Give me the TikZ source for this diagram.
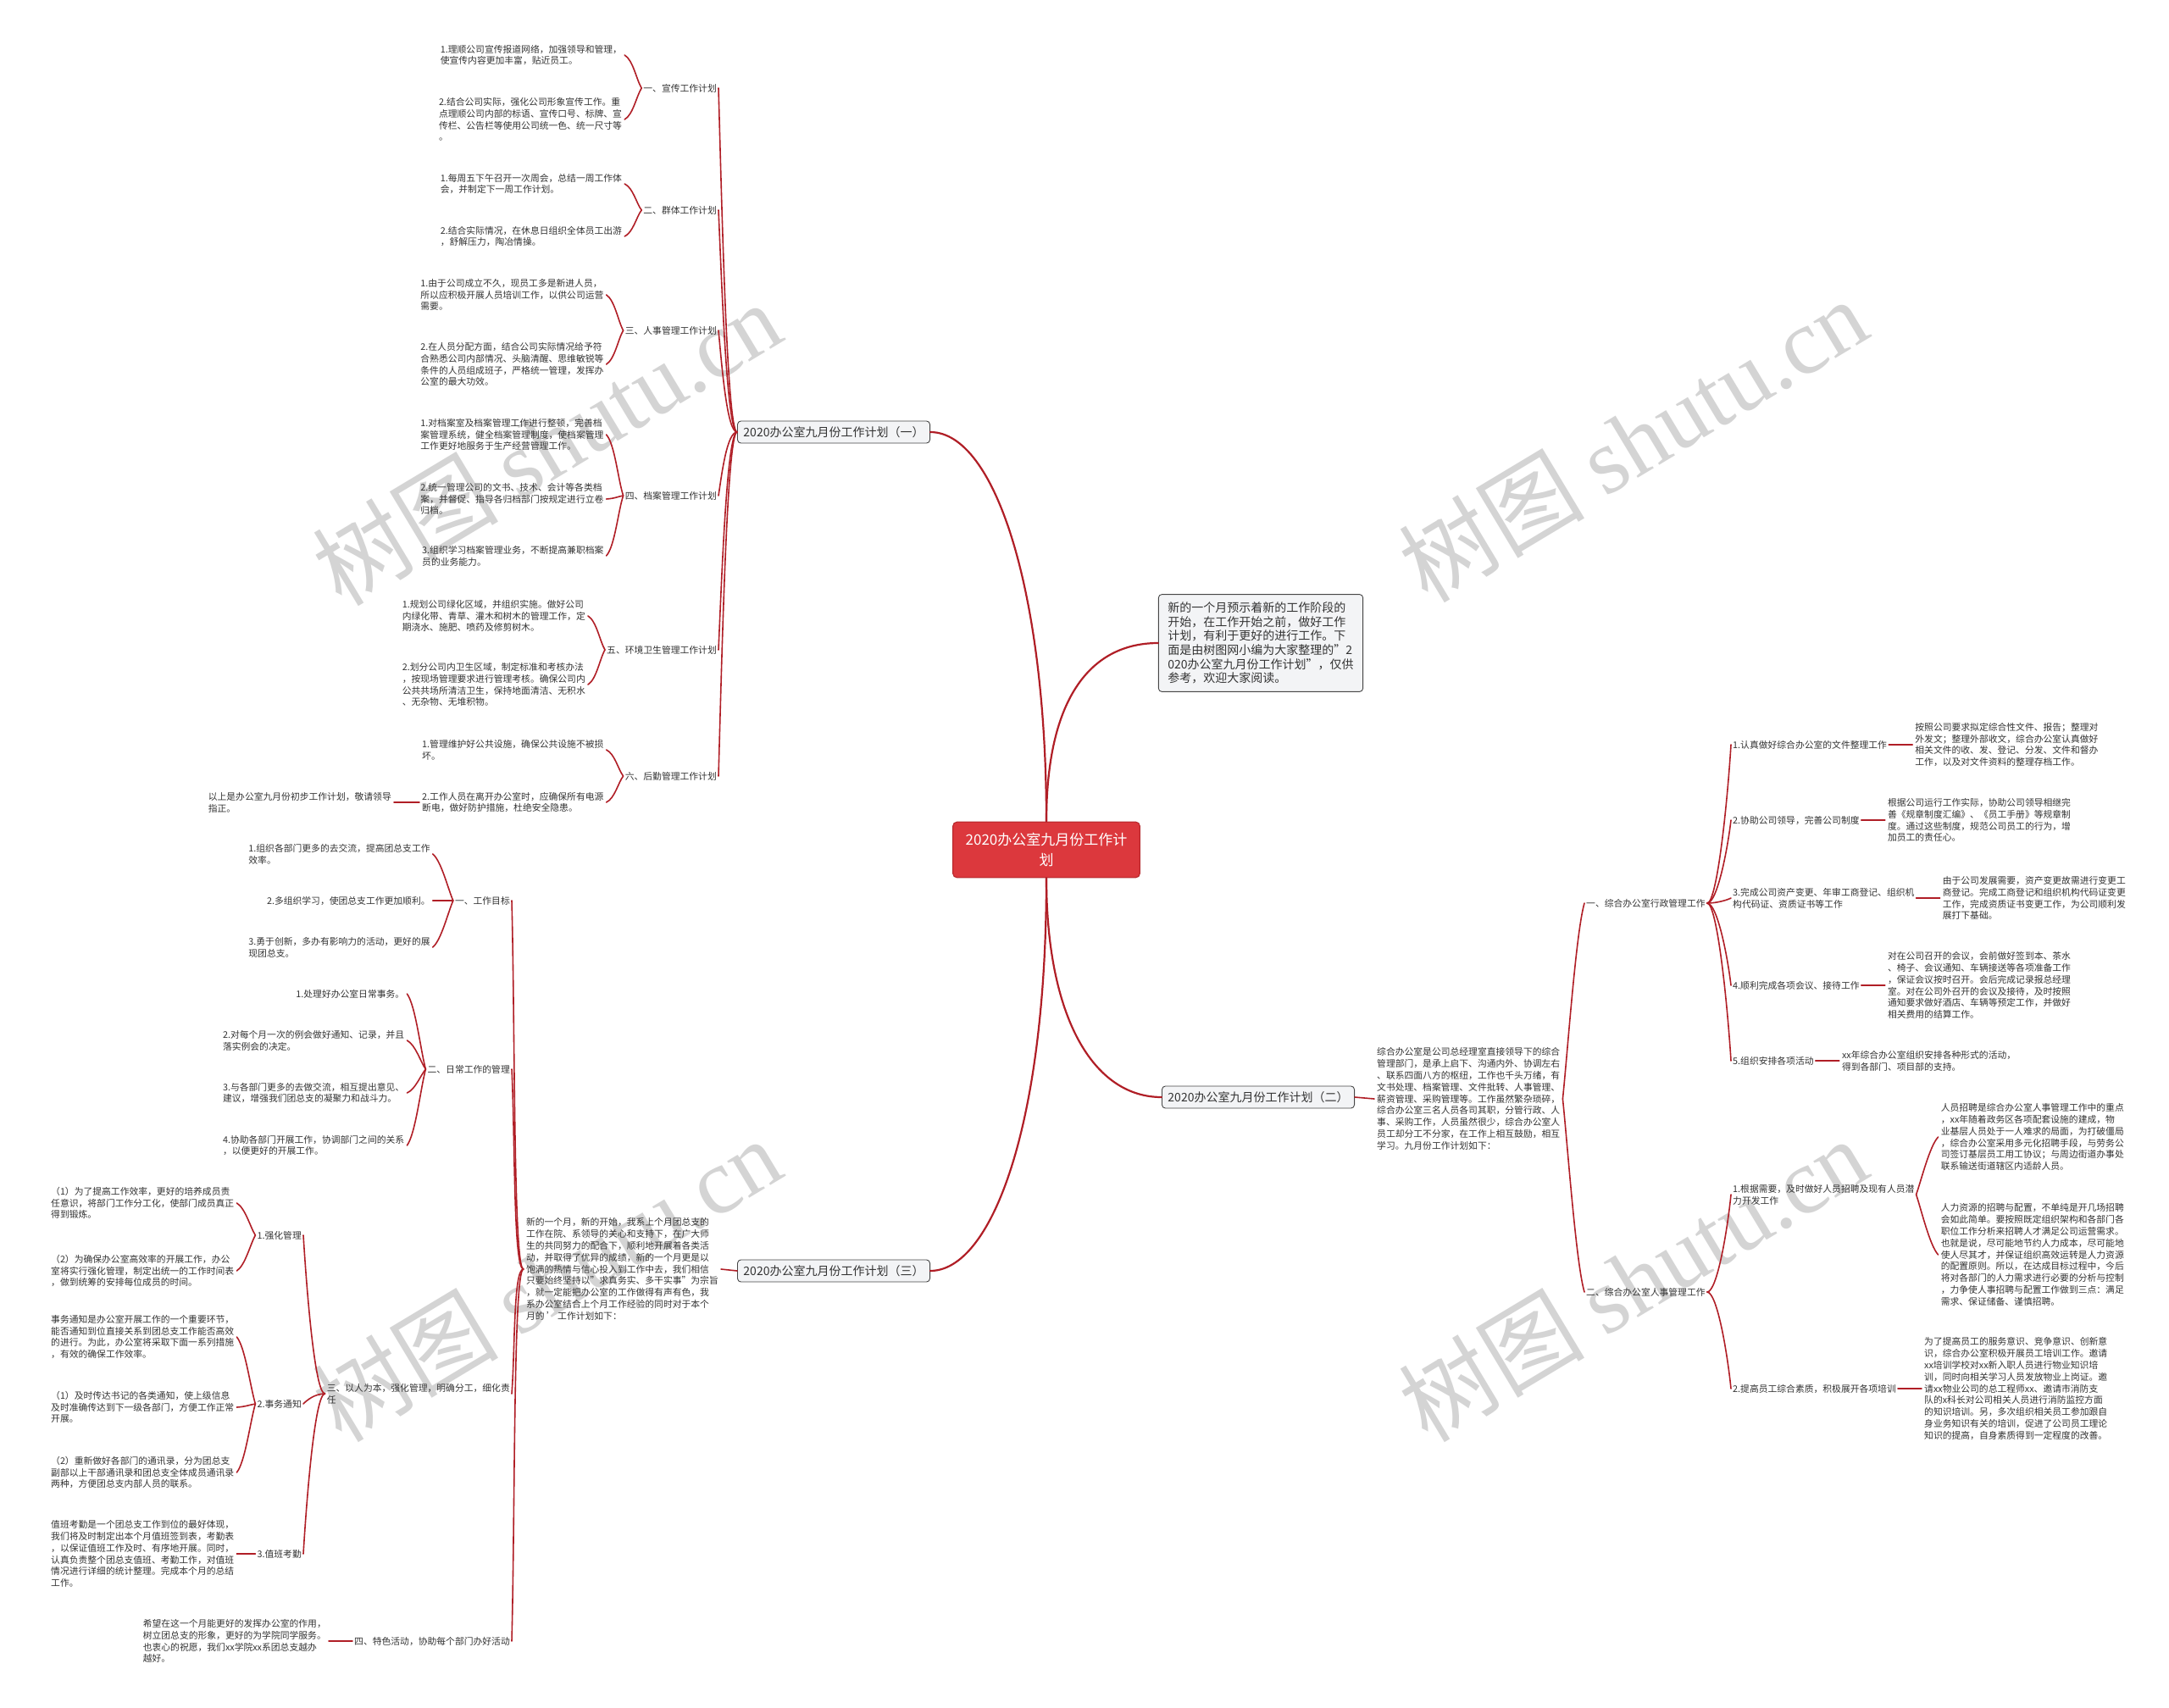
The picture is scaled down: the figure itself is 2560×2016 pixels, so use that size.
\documentclass[tikz,border=0pt]{standalone}
\usepackage{fontspec}
\setmainfont{Noto Sans CJK SC}
\newfontfamily\wmserif{Liberation Serif}
\usetikzlibrary{calc}
\definecolor{lnred}{RGB}{176,30,38}
\definecolor{txtc}{RGB}{51,51,51}
\definecolor{ctrred}{RGB}{220,56,61}
\definecolor{ctrbd}{RGB}{180,35,40}
\definecolor{mfill}{RGB}{243,244,246}
\definecolor{mbd}{RGB}{70,70,70}
\definecolor{wmc}{RGB}{212,212,212}
\begin{document}
\begin{tikzpicture}[x=1pt,y=-1pt,
 lnk/.style={draw=lnred, line width=1.6pt, line cap=round},
 bigl/.style={draw=lnred, line width=2.2pt, line cap=round},
 leaf/.style={align=left, inner sep=3pt, text=txtc, font=\fontsize{10.8}{13.8}\selectfont},
 lab/.style={align=left, inner sep=2pt, text=txtc, font=\fontsize{10.8}{13.8}\selectfont},
 mainnode/.style={draw=mbd, fill=mfill, rounded corners=4pt, line width=0.9pt, inner xsep=7pt, inner ysep=4pt, minimum height=26pt, text=txtc, font=\fontsize{14}{16.7}\selectfont},
 ctrnode/.style={draw=ctrbd, fill=ctrred, rounded corners=5pt, line width=1pt, align=center, inner xsep=15pt, inner ysep=13pt, text=white, font=\fontsize{17}{24}\selectfont},
 wmark/.style={rotate=31, text=wmc, font=\fontsize{110}{110}\selectfont, inner sep=0pt},
 treeL/.style={to path={let \p1=(\tikztostart), \p2=(\tikztotarget) in (\p1) .. controls ({\x1-12pt},\y1) and ({\x2+4pt},{\y2+0.35*(\y1-\y2)}) .. (\p2)}},
 treeR/.style={to path={let \p1=(\tikztostart), \p2=(\tikztotarget) in (\p1) .. controls ({\x1+12pt},\y1) and ({\x2-4pt},{\y2+0.35*(\y1-\y2)}) .. (\p2)}},
 braceL/.style={to path={let \p1=(\tikztostart), \p2=(\tikztotarget) in (\p1) .. controls ({\x1-6pt},{\y1+0.25*(\y2-\y1)}) and ({\x2+10pt},{\y2-0.15*(\y2-\y1)}) .. (\p2)}},
 braceR/.style={to path={let \p1=(\tikztostart), \p2=(\tikztotarget) in (\p1) .. controls ({\x1+6pt},{\y1+0.25*(\y2-\y1)}) and ({\x2-10pt},{\y2-0.15*(\y2-\y1)}) .. (\p2)}}
]
\fill[white] (0,0) rectangle (2560,2016);
\useasboundingbox (0,0) rectangle (2560,2016);

% watermarks
\node[wmark] (w1) at (645,523) {树图 {\wmserif shutu.cn}};
\node[wmark] (w2) at (1927,519) {树图 {\wmserif shutu.cn}};
\node[wmark] (w3) at (645,1510) {树图 {\wmserif shutu.cn}};
\node[wmark] (w4) at (1927,1510) {树图 {\wmserif shutu.cn}};

% centre and main nodes
\node[ctrnode] (ctr) at (1235,1003) {2020办公室九月份工作计\\划};
\node[mainnode] (s1) at (984,510) {2020办公室九月份工作计划（一）};
\node[mainnode] (s2) at (1485,1295) {2020办公室九月份工作计划（二）};
\node[mainnode] (s3) at (984,1500) {2020办公室九月份工作计划（三）};
\node[mainnode, align=left, font=\fontsize{14}{16.7}\selectfont, inner xsep=11pt, inner ysep=9pt] (intro) at (1488,759) {新的一个月预示着新的工作阶段的\\开始，在工作开始之前，做好工作\\计划，有利于更好的进行工作。下\\面是由树图网小编为大家整理的"2\\020办公室九月份工作计划"，仅供\\参考，欢迎大家阅读。};

\draw[bigl] (ctr.north) .. controls (1235,700) and (1175,510) .. (s1.east);
\draw[bigl] (ctr.north) .. controls (1235,820) and (1290,759) .. (intro.west);
\draw[bigl] (ctr.south) .. controls (1235,1200) and (1290,1295) .. (s2.west);
\draw[bigl] (ctr.south) .. controls (1235,1330) and (1170,1500) .. (s3.east);

% ===== section one =====
\node[lab, anchor=east] (a1) at (848,104) {一、宣传工作计划};
\node[lab, anchor=east] (a2) at (848,248) {二、群体工作计划};
\node[lab, anchor=east] (a3) at (848,390) {三、人事管理工作计划};
\node[lab, anchor=east] (a4) at (848,585) {四、档案管理工作计划};
\node[lab, anchor=east] (a5) at (848,767) {五、环境卫生管理工作计划};
\node[lab, anchor=east] (a6) at (848,916) {六、后勤管理工作计划};

\node[leaf, anchor=east] (l1a) at ($(a1.west)+(-20,-39)$) {1.理顺公司宣传报道网络，加强领导和管理，\\使宣传内容更加丰富，贴近员工。};
\node[leaf, anchor=east] (l1b) at ($(a1.west)+(-20,37)$) {2.结合公司实际，强化公司形象宣传工作。重\\点理顺公司内部的标语、宣传口号、标牌、宣\\传栏、公告栏等使用公司统一色、统一尺寸等\\。};
\node[leaf, anchor=east] (l2a) at ($(a2.west)+(-20,-31)$) {1.每周五下午召开一次周会，总结一周工作体\\会，并制定下一周工作计划。};
\node[leaf, anchor=east] (l2b) at ($(a2.west)+(-20,31)$) {2.结合实际情况，在休息日组织全体员工出游\\，舒解压力，陶冶情操。};
\node[leaf, anchor=east] (l3a) at ($(a3.west)+(-20,-42)$) {1.由于公司成立不久，现员工多是新进人员，\\所以应积极开展人员培训工作，以供公司运营\\需要。};
\node[leaf, anchor=east] (l3b) at ($(a3.west)+(-20,40)$) {2.在人员分配方面，结合公司实际情况给予符\\合熟悉公司内部情况、头脑清醒、思维敏锐等\\条件的人员组成班子，严格统一管理，发挥办\\公室的最大功效。};
\node[leaf, anchor=east] (l4a) at ($(a4.west)+(-20,-72)$) {1.对档案室及档案管理工作进行整顿，完善档\\案管理系统，健全档案管理制度，使档案管理\\工作更好地服务于生产经营管理工作。};
\node[leaf, anchor=east] (l4b) at ($(a4.west)+(-20,4)$) {2.统一管理公司的文书、技术、会计等各类档\\案，并督促、指导各归档部门按规定进行立卷\\归档。};
\node[leaf, anchor=east] (l4c) at ($(a4.west)+(-20,71)$) {3.组织学习档案管理业务，不断提高兼职档案\\员的业务能力。};
\node[leaf, anchor=east] (l5a) at ($(a5.west)+(-20,-40)$) {1.规划公司绿化区域，并组织实施。做好公司\\内绿化带、青草、灌木和树木的管理工作，定\\期浇水、施肥、喷药及修剪树木。};
\node[leaf, anchor=east] (l5b) at ($(a5.west)+(-20,41)$) {2.划分公司内卫生区域，制定标准和考核办法\\，按现场管理要求进行管理考核。确保公司内\\公共共场所清洁卫生，保持地面清洁、无积水\\、无杂物、无堆积物。};
\node[leaf, anchor=east] (l6a) at ($(a6.west)+(-20,-31)$) {1.管理维护好公共设施，确保公共设施不被损\\坏。};
\node[leaf, anchor=east] (l6b) at ($(a6.west)+(-20,31)$) {2.工作人员在离开办公室时，应确保所有电源\\断电，做好防护措施，杜绝安全隐患。};
\node[leaf, anchor=east] (ys) at ($(l6b.west)+(-30,0)$) {以上是办公室九月份初步工作计划，敬请领导\\指正。};

\foreach \t in {a1,a2,a3,a4,a5,a6} \draw[lnk] (s1.west) to[treeL] (\t.east);
\draw[lnk] (a1.west) to[braceL] (l1a.east);
\draw[lnk] (a1.west) to[braceL] (l1b.east);
\draw[lnk] (a2.west) to[braceL] (l2a.east);
\draw[lnk] (a2.west) to[braceL] (l2b.east);
\draw[lnk] (a3.west) to[braceL] (l3a.east);
\draw[lnk] (a3.west) to[braceL] (l3b.east);
\draw[lnk] (a4.west) to[braceL] (l4a.east);
\draw[lnk] (a4.west) to[braceL] (l4b.east);
\draw[lnk] (a4.west) to[braceL] (l4c.east);
\draw[lnk] (a5.west) to[braceL] (l5a.east);
\draw[lnk] (a5.west) to[braceL] (l5b.east);
\draw[lnk] (a6.west) to[braceL] (l6a.east);
\draw[lnk] (a6.west) to[braceL] (l6b.east);
\draw[lnk] (l6b.west) -- (ys.east);

% ===== section three =====
\node[leaf, anchor=east] (d3) at (851,1498) {新的一个月，新的开始，我系上个月团总支的\\工作在院、系领导的关心和支持下，在广大师\\生的共同努力的配合下，顺利地开展着各类活\\动，并取得了优异的成绩，新的一个月更是以\\饱满的热情与信心投入到工作中去，我们相信\\只要始终坚持以"求真务实、多干实事"为宗旨\\，就一定能把办公室的工作做得有声有色，我\\系办公室结合上个月工作经验的同时对于本个\\月的 ' 工作计划如下：};
\node[lab, anchor=east] (b1) at (604,1063) {一、工作目标};
\node[lab, anchor=east] (b2) at (604,1262) {二、日常工作的管理};
\node[lab, anchor=east] (b3) at (604,1645) {三、以人为本，强化管理，明确分工，细化责\\任};
\node[lab, anchor=east] (b4) at (604,1937) {四、特色活动，协助每个部门办好活动};

\node[leaf, anchor=east] (m1a) at ($(b1.west)+(-24,-55)$) {1.组织各部门更多的去交流，提高团总支工作\\效率。};
\node[leaf, anchor=east] (m1b) at ($(b1.west)+(-24,0)$) {2.多组织学习，使团总支工作更加顺利。};
\node[leaf, anchor=east] (m1c) at ($(b1.west)+(-24,55)$) {3.勇于创新，多办有影响力的活动，更好的展\\现团总支。};
\node[leaf, anchor=east] (m2a) at ($(b2.west)+(-22,-89)$) {1.处理好办公室日常事务。};
\node[leaf, anchor=east] (m2b) at ($(b2.west)+(-22,-34)$) {2.对每个月一次的例会做好通知、记录，并且\\落实例会的决定。};
\node[leaf, anchor=east] (m2c) at ($(b2.west)+(-22,28)$) {3.与各部门更多的去做交流，相互提出意见、\\建议，增强我们团总支的凝聚力和战斗力。};
\node[leaf, anchor=east] (m2d) at ($(b2.west)+(-22,90)$) {4.协助各部门开展工作，协调部门之间的关系\\，以便更好的开展工作。};

\node[lab, anchor=east] (c1) at (358,1458) {1.强化管理};
\node[lab, anchor=east] (c2) at (358,1657) {2.事务通知};
\node[lab, anchor=east] (c3) at (358,1834) {3.值班考勤};

\node[leaf, anchor=east] (n1a) at ($(c1.west)+(-22,-38)$) {（1）为了提高工作效率，更好的培养成员责\\任意识，将部门工作分工化，使部门成员真正\\得到锻炼。};
\node[leaf, anchor=east] (n1b) at ($(c1.west)+(-22,42)$) {（2）为确保办公室高效率的开展工作，办公\\室将实行强化管理，制定出统一的工作时间表\\，做到统筹的安排每位成员的时间。};
\node[leaf, anchor=east] (n2a) at ($(c2.west)+(-22,-79)$) {事务通知是办公室开展工作的一个重要环节，\\能否通知到位直接关系到团总支工作能否高效\\的进行。为此，办公室将采取下面一系列措施\\，有效的确保工作效率。};
\node[leaf, anchor=east] (n2b) at ($(c2.west)+(-22,4)$) {（1）及时传达书记的各类通知，使上级信息\\及时准确传达到下一级各部门，方便工作正常\\开展。};
\node[leaf, anchor=east] (n2c) at ($(c2.west)+(-22,81)$) {（2）重新做好各部门的通讯录，分为团总支\\副部以上干部通讯录和团总支全体成员通讯录\\两种，方便团总支内部人员的联系。};
\node[leaf, anchor=east] (n3) at ($(c3.west)+(-22,0)$) {值班考勤是一个团总支工作到位的最好体现，\\我们将及时制定出本个月值班签到表，考勤表\\，以保证值班工作及时、有序地开展。同时，\\认真负责整个团总支值班、考勤工作，对值班\\情况进行详细的统计整理。完成本个月的总结\\工作。};
\node[leaf, anchor=east] (n4) at ($(b4.west)+(-28,0)$) {希望在这一个月能更好的发挥办公室的作用，\\树立团总支的形象，更好的为学院同学服务。\\也衷心的祝愿，我们xx学院xx系团总支越办\\越好。};

\draw[lnk] (s3.west) -- (d3.east);
\foreach \t in {b1,b2,b3,b4} \draw[lnk] (d3.west) to[treeL] (\t.east);
\foreach \t in {m1a,m1b,m1c} \draw[lnk] (b1.west) to[braceL] (\t.east);
\foreach \t in {m2a,m2b,m2c,m2d} \draw[lnk] (b2.west) to[braceL] (\t.east);
\foreach \t in {c1,c2,c3} \draw[lnk] (b3.west) to[treeL] (\t.east);
\foreach \t in {n1a,n1b} \draw[lnk] (c1.west) to[braceL] (\t.east);
\foreach \t in {n2a,n2b,n2c} \draw[lnk] (c2.west) to[braceL] (\t.east);
\draw[lnk] (c3.west) -- (n3.east);
\draw[lnk] (b4.west) -- (n4.east);

% ===== section two =====
\node[leaf, anchor=west] (d2) at (1622,1297) {综合办公室是公司总经理室直接领导下的综合\\管理部门，是承上启下、沟通内外、协调左右\\、联系四面八方的枢纽，工作也千头万绪，有\\文书处理、档案管理、文件批转、人事管理、\\薪资管理、采购管理等。工作虽然繁杂琐碎，\\综合办公室三名人员各司其职，分管行政、人\\事、采购工作，人员虽然很少，综合办公室人\\员工却分工不分家，在工作上相互鼓励，相互\\学习。九月份工作计划如下：};
\node[lab, anchor=west] (e1) at (1870,1066) {一、综合办公室行政管理工作};
\node[lab, anchor=west] (e2) at (1870,1525) {二、综合办公室人事管理工作};

\node[lab, anchor=west] (r1) at (2043,879) {1.认真做好综合办公室的文件整理工作};
\node[lab, anchor=west] (r2) at (2043,968) {2.协助公司领导，完善公司制度};
\node[lab, anchor=west] (r3) at (2043,1060) {3.完成公司资产变更、年审工商登记、组织机\\构代码证、资质证书等工作};
\node[lab, anchor=west] (r4) at (2043,1163) {4.顺利完成各项会议、接待工作};
\node[lab, anchor=west] (r5) at (2043,1252) {5.组织安排各项活动};
\node[lab, anchor=west] (r6) at (2043,1410) {1.根据需要，及时做好人员招聘及现有人员潜\\力开发工作};
\node[lab, anchor=west] (r7) at (2043,1639) {2.提高员工综合素质，积极展开各项培训};

\node[leaf, anchor=west] (r1l) at ($(r1.east)+(28,0)$) {按照公司要求拟定综合性文件、报告；整理对\\外发文；整理外部收文，综合办公室认真做好\\相关文件的收、发、登记、分发、文件和督办\\工作，以及对文件资料的整理存档工作。};
\node[leaf, anchor=west] (r2l) at ($(r2.east)+(28,0)$) {根据公司运行工作实际，协助公司领导相继完\\善《规章制度汇编》、《员工手册》等规章制\\度。通过这些制度，规范公司员工的行为，增\\加员工的责任心。};
\node[leaf, anchor=west] (r3l) at ($(r3.east)+(28,0)$) {由于公司发展需要，资产变更故需进行变更工\\商登记。完成工商登记和组织机构代码证变更\\工作，完成资质证书变更工作，为公司顺利发\\展打下基础。};
\node[leaf, anchor=west] (r4l) at ($(r4.east)+(28,0)$) {对在公司召开的会议，会前做好签到本、茶水\\、椅子、会议通知、车辆接送等各项准备工作\\，保证会议按时召开。会后完成记录报总经理\\室。对在公司外召开的会议及接待，及时按照\\通知要求做好酒店、车辆等预定工作，并做好\\相关费用的结算工作。};
\node[leaf, anchor=west] (r5l) at ($(r5.east)+(28,0)$) {xx年综合办公室组织安排各种形式的活动，\\得到各部门、项目部的支持。};
\node[leaf, anchor=west] (r6a) at ($(r6.east)+(26,-68)$) {人员招聘是综合办公室人事管理工作中的重点\\，xx年随着政务区各项配套设施的建成，物\\业基层人员处于一人难求的局面，为打破僵局\\，综合办公室采用多元化招聘手段，与劳务公\\司签订基层员工用工协议；与周边街道办事处\\联系输送街道辖区内适龄人员。};
\node[leaf, anchor=west] (r6b) at ($(r6.east)+(26,71)$) {人力资源的招聘与配置，不单纯是开几场招聘\\会如此简单。要按照既定组织架构和各部门各\\职位工作分析来招聘人才满足公司运营需求。\\也就是说，尽可能地节约人力成本，尽可能地\\使人尽其才，并保证组织高效运转是人力资源\\的配置原则。所以，在达成目标过程中，今后\\将对各部门的人力需求进行必要的分析与控制\\，力争使人事招聘与配置工作做到三点：满足\\需求、保证储备、谨慎招聘。};
\node[leaf, anchor=west] (r7l) at ($(r7.east)+(28,0)$) {为了提高员工的服务意识、竞争意识、创新意\\识，综合办公室积极开展员工培训工作。邀请\\xx培训学校对xx新入职人员进行物业知识培\\训，同时向相关学习人员发放物业上岗证。邀\\请xx物业公司的总工程师xx、邀请市消防支\\队的x科长对公司相关人员进行消防监控方面\\的知识培训。另，多次组织相关员工参加跟自\\身业务知识有关的培训，促进了公司员工理论\\知识的提高，自身素质得到一定程度的改善。};

\draw[lnk] (s2.east) -- (d2.west);
\foreach \t in {e1,e2} \draw[lnk] (d2.east) to[braceR] (\t.west);
\foreach \t in {r1,r2,r3,r4,r5} \draw[lnk] (e1.east) to[treeR] (\t.west);
\foreach \t in {r6,r7} \draw[lnk] (e2.east) to[treeR] (\t.west);
\foreach \t in {r1,r2,r3,r4,r5,r7} \draw[lnk] (\t.east) -- (\t l.west);
\foreach \t in {r6a,r6b} \draw[lnk] (r6.east) to[braceR] (\t.west);
\end{tikzpicture}
\end{document}
